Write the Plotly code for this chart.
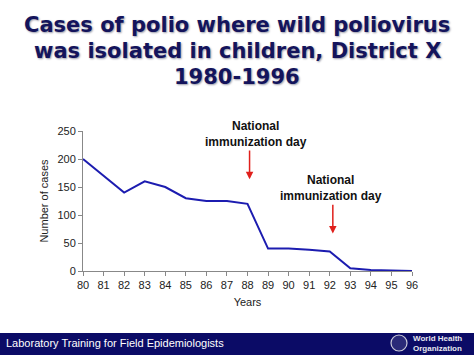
import plotly.graph_objects as go

years = [80, 81, 82, 83, 84, 85, 86, 87, 88, 89, 90, 91, 92, 93, 94, 95, 96]
cases = [200, 170, 140, 160, 150, 130, 125, 125, 120, 40, 40, 38, 35, 5, 2, 1, 0]
y_ticks = [0, 50, 100, 150, 200, 250]
nid_years = [88.1, 92.15]
nid_label = "National<br>immunization day"

fig = go.Figure()
fig.add_trace(go.Scatter(x=years, y=cases, mode="lines",
                         line=dict(color="#1c1cb0", width=2), showlegend=False))

# arrows for national immunization days
arrow_specs = [(nid_years[0], 218, 164), (nid_years[1], 121, 67)]
for xv, y0, y1 in arrow_specs:
    fig.add_annotation(x=xv, y=y1, ax=xv, ay=y0, xref="x", yref="y", axref="x", ayref="y",
                       showarrow=True, arrowhead=2, arrowsize=1, arrowwidth=1.5,
                       arrowcolor="#e0201c", text="")
tx = [88.4, 92.05]
ty = [245, 148]
for xv, yv in zip(tx, ty):
    fig.add_annotation(x=xv, y=yv, xref="x", yref="y", text="<b>" + nid_label + "</b>",
                       showarrow=False, font=dict(family="Liberation Sans, Arial", size=12, color="#111111"),
                       align="center")

H = 355.0
plot_h = H - 131 - 84

title_lines = ["Cases of polio where wild poliovirus", "was isolated in children, District X", "1980-1996"]
for i, t in enumerate(title_lines):
    py = 25 + 26 * i
    fig.add_annotation(x=0.5 - 0.5 * (83 - 62) / 329.0, y=(H - 84 - py) / plot_h,
                       xref="paper", yref="paper", text="<b>" + t + "</b>",
                       showarrow=False, xanchor="center", yanchor="middle",
                       font=dict(family="DejaVu Sans, Arial Black", size=21, color="#14145c",
                                 shadow="1px 1px 2px #9a9aa8"))

fig.update_layout(
    width=474, height=355,
    margin=dict(l=83, r=62, t=131, b=84),
    paper_bgcolor="white", plot_bgcolor="white",
    font=dict(family="Liberation Sans, Arial", size=11, color="#222222"),
    xaxis=dict(range=[80, 96], tickmode="array", tickvals=years, ticktext=[str(y) for y in years],
               showgrid=False, zeroline=False, showline=True, linecolor="#888888", linewidth=1,
               ticks="outside", ticklen=4, tickcolor="#888888",
               title=dict(text="Years", font=dict(size=11), standoff=8)),
    yaxis=dict(range=[0, 250], tickmode="array", tickvals=y_ticks,
               showgrid=False, zeroline=False, showline=True, linecolor="#888888", linewidth=1,
               ticks="outside", ticklen=4, tickcolor="#888888",
               title=dict(text="Number of cases", font=dict(size=11), standoff=6)),
)

# footer bar
fig.add_shape(type="rect", xref="paper", yref="paper",
              x0=-83 / 329.0, x1=(474 - 83) / 329.0,
              y0=-84 / plot_h, y1=-(333 - 271) / plot_h,
              fillcolor="#0b0b66", line=dict(width=0), layer="above")
fig.add_annotation(x=-79 / 329.0, y=-(343 - 271) / plot_h, xref="paper", yref="paper",
                   text="Laboratory Training for Field Epidemiologists", showarrow=False,
                   xanchor="left", yanchor="middle",
                   font=dict(family="Liberation Sans, Arial", size=11, color="white"))
fig.add_shape(type="circle", xref="paper", yref="paper",
              x0=(391 - 83) / 329.0, x1=(407 - 83) / 329.0,
              y0=-(351 - 271) / plot_h, y1=-(335 - 271) / plot_h,
              line=dict(color="#c8c8d8", width=1.2), fillcolor="#2a2a78", layer="above")
fig.add_annotation(x=(411 - 83) / 329.0, y=-(343 - 271) / plot_h, xref="paper", yref="paper",
                   text="<b>World Health<br>Organization</b>", showarrow=False,
                   xanchor="left", yanchor="middle", align="left",
                   font=dict(family="Liberation Sans Narrow, Liberation Sans, Arial", size=8, color="#e8e8f0"))

fig.write_html("out.html", config={"displayModeBar": False},
               post_script="document.body.style.margin='0px';")
